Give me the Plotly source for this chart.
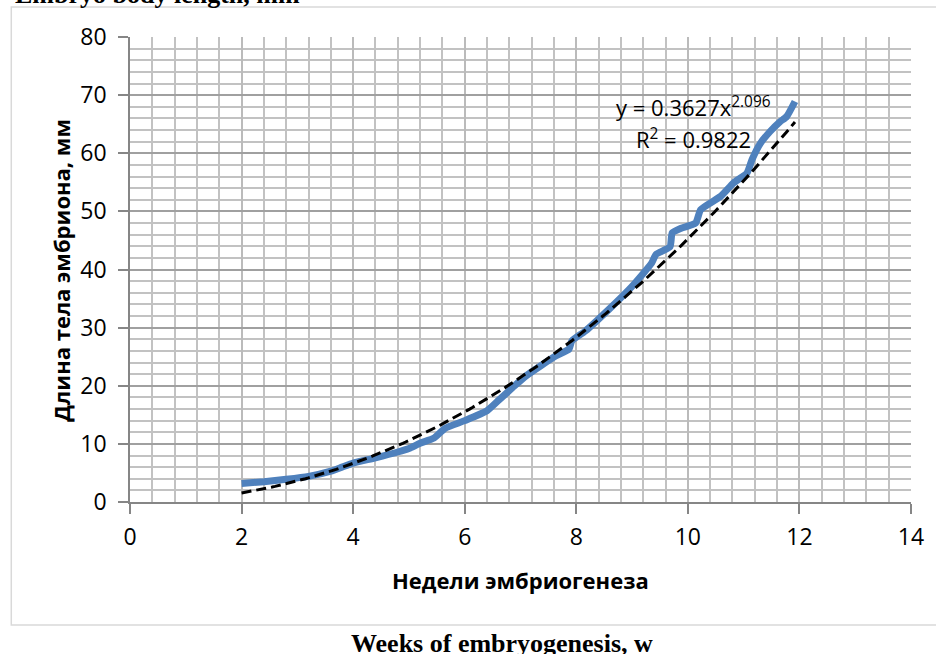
import numpy as np
import plotly.graph_objects as go

# Data
weeks = [2.0, 2.4, 2.8, 3.2, 3.6, 3.8, 4.0, 4.4, 4.8, 5.0, 5.2, 5.45, 5.65, 6.0, 6.4,
         6.62, 6.86, 7.1, 7.63, 7.87, 7.92, 8.16, 8.58, 9.0, 9.35, 9.43, 9.68, 9.72,
         9.88, 10.14, 10.23, 10.59, 10.82, 11.06, 11.15, 11.3, 11.47, 11.65, 11.77, 11.92]
length_mm = [3.2, 3.5, 3.9, 4.4, 5.3, 6.0, 6.7, 7.6, 8.6, 9.2, 10.1, 11.0, 12.7, 14.0, 15.7,
             17.6, 19.7, 21.7, 25.1, 26.3, 27.7, 29.4, 33.1, 37.1, 41.1, 42.6, 43.9, 46.3,
             47.1, 48.0, 50.3, 52.6, 54.9, 56.6, 58.9, 61.7, 63.7, 65.4, 66.3, 68.9]

# Power trendline shown on the chart: y = a * x^b
trend_a = 0.3627
trend_b = 2.096
trend_r2 = 0.9822

x_ticks = [0, 2, 4, 6, 8, 10, 12, 14]
y_ticks = [0, 10, 20, 30, 40, 50, 60, 70, 80]

trend_x = np.linspace(min(weeks), max(weeks), 200)
trend_y = trend_a * trend_x ** trend_b

SANS = "Open Sans, Noto Sans, sans-serif"
SERIF = "Liberation Serif, Times New Roman, serif"
TICK_FONT = dict(family=SANS, size=23, color="#000000")

fig = go.Figure()
fig.add_trace(go.Scatter(x=weeks, y=length_mm, mode="lines",
                         line=dict(color="#4F81BD", width=7, shape="spline", smoothing=0.5),
                         showlegend=False, hoverinfo="x+y"))
fig.add_trace(go.Scatter(x=trend_x, y=trend_y, mode="lines",
                         line=dict(color="#000000", width=3, dash="10px,5px"),
                         showlegend=False, hoverinfo="skip"))

fig.update_layout(
    width=936, height=654,
    margin=dict(l=130, r=17, t=37, b=152),
    paper_bgcolor="#FFFFFF", plot_bgcolor="#FFFFFF",
    font=TICK_FONT,
    xaxis=dict(range=[0, 14], tickvals=x_ticks, ticktext=[str(v) for v in x_ticks],
               ticks="outside", ticklen=10, tickcolor="#868686", tickwidth=1.5,
               showline=True, linecolor="#868686", linewidth=1.5,
               showgrid=True, gridcolor="#BBBBBB", gridwidth=1.5, zeroline=False,
               minor=dict(dtick=0.4, tick0=0, showgrid=True, gridcolor="#C2C2C2", gridwidth=1.5, ticks=""),
               tickfont=TICK_FONT, ticklabelstandoff=4, fixedrange=True),
    yaxis=dict(range=[0, 80], tickvals=y_ticks, ticktext=[str(v) for v in y_ticks],
               ticks="outside", ticklen=10, tickcolor="#868686", tickwidth=1.5,
               showline=True, linecolor="#868686", linewidth=1.5,
               showgrid=True, gridcolor="#A0A0A0", gridwidth=1.5, zeroline=False,
               minor=dict(dtick=2, tick0=0, showgrid=True, gridcolor="#C2C2C2", gridwidth=1.5, ticks=""),
               tickfont=TICK_FONT, ticklabelstandoff=7, fixedrange=True),
)

# outer chart frame
fig.add_shape(type="rect", xref="paper", yref="paper",
              x0=-0.152, x1=1.05, y0=-0.2645, y1=1.0645,
              line=dict(color="#D9D9D9", width=1.5), fillcolor="rgba(0,0,0,0)", layer="below")

# equation annotations
EQ_FONT = dict(family=SANS, size=22, color="#000000")
fig.add_annotation(x=10.1, y=68.0, xref="x", yref="y",
                   text=f"y = {trend_a}x<sup>{trend_b}</sup>", showarrow=False,
                   font=EQ_FONT, xanchor="center", yanchor="middle")
fig.add_annotation(x=10.1, y=62.6, xref="x", yref="y",
                   text=f"R<sup>2</sup> = {trend_r2}", showarrow=False,
                   font=EQ_FONT, xanchor="center", yanchor="middle")

# axis titles
TITLE_FONT = dict(family=SANS, size=22, color="#000000")
fig.add_annotation(x=-0.0887, y=0.499, xref="paper", yref="paper",
                   text="<b>Длина тела эмбриона, мм</b>", textangle=-90, showarrow=False,
                   font=TITLE_FONT, xanchor="center", yanchor="middle")
fig.add_annotation(x=0.5, y=-0.1677, xref="paper", yref="paper",
                   text="<b>Недели эмбриогенеза</b>", showarrow=False,
                   font=TITLE_FONT, xanchor="center", yanchor="middle")

# English captions outside the chart frame
fig.add_annotation(x=(506 - 130) / 789, y=(502 - 643) / 465, xref="paper", yref="paper",
                   text="<b>Weeks of embryogenesis, w</b>", showarrow=False,
                   font=dict(family=SERIF, size=26, color="#000000"),
                   xanchor="center", yanchor="middle")
fig.add_annotation(x=(12 - 130) / 789, y=(502 - 11) / 465, xref="paper", yref="paper",
                   text="<b>Embryo body length, mm</b>", showarrow=False,
                   font=dict(family=SERIF, size=26, color="#000000"),
                   xanchor="left", yanchor="bottom")

fig.write_html("out.html", config={"displayModeBar": False})
